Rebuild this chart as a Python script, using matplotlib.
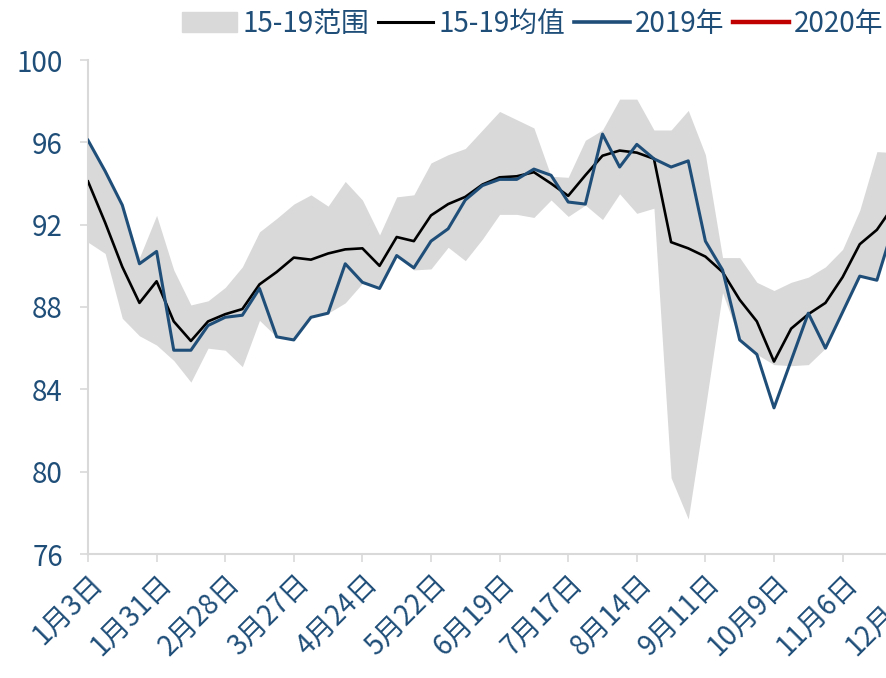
import numpy as np
import matplotlib
matplotlib.use('Agg')
from matplotlib import pyplot as plt
from matplotlib.patches import Patch
from matplotlib.lines import Line2D

plt.rcParams['font.family'] = ['Noto Sans CJK SC', 'DejaVu Sans']

# weekly values, week 0 = 1月3日
range_low = [91.15, 90.6, 87.45, 86.6, 86.15, 85.4, 84.35, 86.0, 85.9, 85.1,
             87.35, 86.55, 86.4, 87.5, 87.7, 88.2, 89.15, 88.9, 90.5, 89.8,
             89.85, 90.9, 90.25, 91.3, 92.5, 92.5, 92.35, 93.2, 92.4, 92.95,
             92.25, 93.5, 92.55, 92.8, 79.7, 77.7, 83.1, 88.7, 86.4, 85.7,
             85.2, 85.15, 85.2, 86.0, 87.75, 89.5, 89.3, 91.9]
range_high = [96.1, 94.6, 92.95, 90.4, 92.45, 89.8, 88.1, 88.3, 88.95, 89.95,
              91.65, 92.3, 93.0, 93.45, 92.9, 94.1, 93.2, 91.5, 93.35, 93.45,
              95.0, 95.4, 95.7, 96.6, 97.5, 97.1, 96.7, 94.35, 94.3, 96.1,
              96.6, 98.1, 98.1, 96.6, 96.6, 97.55, 95.4, 90.4, 90.4, 89.2,
              88.8, 89.2, 89.45, 89.95, 90.8, 92.7, 95.55, 95.5]
mean_15_19 = [94.1, 92.1, 89.95, 88.2, 89.25, 87.3, 86.35, 87.3, 87.65, 87.9,
              89.1, 89.7, 90.4, 90.3, 90.6, 90.8, 90.85, 90.0, 91.4, 91.2,
              92.45, 93.0, 93.35, 93.95, 94.3, 94.35, 94.55, 94.0, 93.4, 94.4,
              95.35, 95.6, 95.5, 95.2, 91.15, 90.85, 90.45, 89.7, 88.35, 87.3,
              85.35, 86.95, 87.65, 88.2, 89.45, 91.05, 91.75, 92.95]
y2019 = [96.1, 94.6, 92.95, 90.1, 90.7, 85.9, 85.9, 87.1, 87.5, 87.6,
         88.9, 86.55, 86.4, 87.5, 87.7, 90.1, 89.2, 88.9, 90.5, 89.9,
         91.2, 91.8, 93.2, 93.9, 94.2, 94.2, 94.7, 94.4, 93.1, 93.0,
         96.4, 94.8, 95.9, 95.2, 94.8, 95.1, 91.2, 89.8, 86.4, 85.7,
         83.1, 85.4, 87.7, 86.0, 87.75, 89.5, 89.3, 92.0]
y2020 = []

tick_labels = ['1月3日', '1月31日', '2月28日', '3月27日', '4月24日', '5月22日',
               '6月19日', '7月17日', '8月14日', '9月11日', '10月9日', '11月6日',
               '12月4日']

text_color = '#1F4E79'
grid_gray = '#D9D9D9'

fig = plt.figure(figsize=(8.87, 6.78), dpi=100)
# axes runs past the right edge of the figure, like the cropped original
ax = fig.add_axes([88 / 887, 124 / 678, 51 * 17.15 / 887, 494 / 678])

weeks = np.arange(len(y2019))
ax.fill_between(weeks, range_low, range_high, color=grid_gray, lw=0, zorder=1)
ax.plot(weeks, mean_15_19, color='black', lw=1.9, zorder=3)
ax.plot(weeks, y2019, color=text_color, lw=2.2, zorder=4)
ax.plot(np.arange(len(y2020)), y2020, color='#C00000', lw=2.5, zorder=5)

ax.set_xlim(0, 51)
ax.set_ylim(76, 100)
ax.set_yticks(np.arange(76, 101, 4))
ax.set_xticks(np.arange(0, 4 * len(tick_labels), 4))
ax.set_xticklabels(tick_labels, rotation=45, ha='right', va='top',
                   rotation_mode='anchor')

for s in ['top', 'right']:
    ax.spines[s].set_visible(False)
for s in ['left', 'bottom']:
    ax.spines[s].set_color(grid_gray)
    ax.spines[s].set_linewidth(1.5)

ax.tick_params(axis='both', colors=grid_gray, labelcolor=text_color,
               labelsize=20, length=6, width=1.2)
ax.tick_params(axis='x', pad=4)
ax.tick_params(axis='y', pad=12)

handles = [Patch(color=grid_gray),
           Line2D([], [], color='black', lw=2.2),
           Line2D([], [], color=text_color, lw=2.6),
           Line2D([], [], color='#C00000', lw=3.2)]
labels = ['15-19范围', '15-19均值', '2019年', '2020年']
leg = fig.legend(handles, labels, loc='upper right', bbox_to_anchor=(1.015, 1.012),
                 ncol=4, frameon=False, fontsize=20, handlelength=2.0,
                 handletextpad=0.2, columnspacing=0.3, borderaxespad=0.2)
for t in leg.get_texts():
    t.set_color(text_color)

fig.savefig('out.png', dpi=100)
